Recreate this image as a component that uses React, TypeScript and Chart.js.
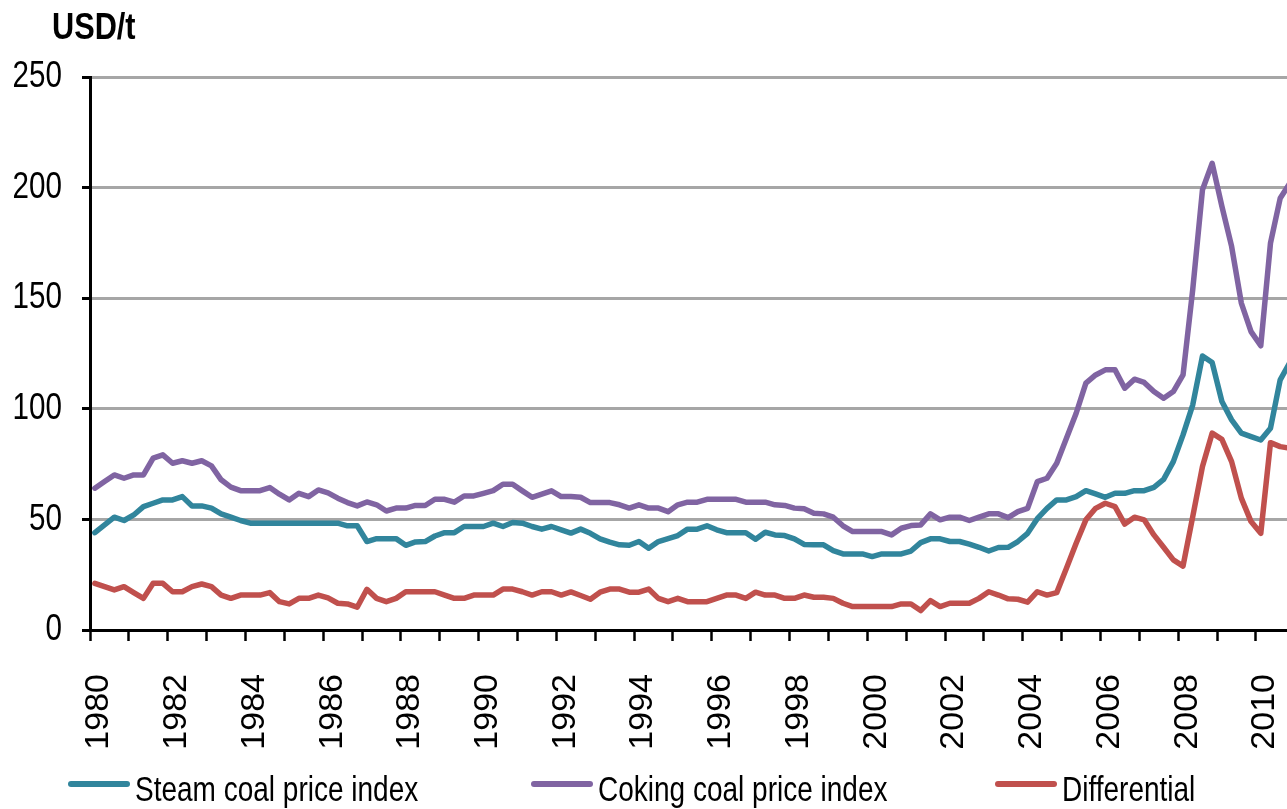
import { useEffect, useRef } from "react";
import { Chart, registerables } from "chart.js";

Chart.register(...registerables);

// ---- data (quarterly, first quarter 1980 Q1) ----
const firstYear = 1980;
const quartersPerYear = 4;
const lastYearTick = 2010;
const xAxisMax = 2010.8;

const steamCoal = [
  44.0, 47.5, 51.0, 49.5, 52.0, 55.8, 57.3, 58.8, 58.8, 60.3, 56.1, 56.1, 55.1, 52.5, 51.0, 49.5, 48.3, 48.3, 48.3, 48.3, 48.3, 48.3, 48.3, 48.3, 48.3,
  48.3, 47.1, 47.1, 40.0, 41.3, 41.3, 41.3, 38.3, 39.8, 40.0, 42.5, 44.0, 44.0, 46.8, 46.8, 46.8, 48.3, 46.8, 48.6, 48.3, 46.8, 45.6, 46.8, 45.3, 43.8,
  45.6, 43.7, 41.2, 39.7, 38.5, 38.3, 40.0, 37.0, 40.0, 41.3, 42.7, 45.6, 45.6, 47.1, 45.3, 44.0, 44.0, 44.0, 41.0, 44.2, 43.0, 42.7, 41.2, 38.7,
  38.5, 38.5, 35.9, 34.4, 34.4, 34.4, 33.2, 34.4, 34.4, 34.4, 35.7, 39.5, 41.2, 41.2, 40.0, 40.0, 38.8, 37.4, 35.7, 37.3,
  37.4, 40.0, 43.7, 50.3, 55.0, 58.8, 58.8, 60.3, 63.0, 61.5, 60.0, 61.8, 61.8, 63.0, 63.0, 64.5, 68.1, 76.1, 88.2, 101.8,
  123.9, 120.9, 103.3, 95.0, 89.0, 87.4, 85.9, 91.2, 113.1, 121.0,
];

const cokingCoal = [
  64.1, 67.1, 70.1, 68.6, 70.1, 70.1, 77.7, 79.2, 75.4, 76.5, 75.4, 76.5, 74.2, 67.9, 64.6, 63.0, 63.0, 63.0, 64.4, 61.4, 58.8, 61.8, 60.3, 63.3, 62.0,
  59.6, 57.6, 56.1, 57.9, 56.6, 53.8, 55.1, 55.1, 56.3, 56.3, 59.1, 59.1, 57.8, 60.6, 60.6, 61.8, 63.0, 65.9, 65.9, 62.9, 60.0, 61.4, 62.9, 60.3, 60.3,
  60.0, 57.6, 57.6, 57.6, 56.6, 55.1, 56.6, 55.1, 55.1, 53.5, 56.6, 57.8, 57.8, 59.1, 59.1, 59.1, 59.1, 57.8, 57.8, 57.8, 56.6, 56.3, 55.1, 54.8,
  52.8, 52.5, 51.0, 47.1, 44.5, 44.5, 44.5, 44.5, 43.0, 46.0, 47.2, 47.5, 52.5, 49.8, 51.0, 51.0, 49.5, 51.0, 52.5, 52.5,
  50.8, 53.5, 55.0, 67.1, 68.6, 75.4, 86.7, 98.0, 111.6, 115.3, 117.6, 117.6, 109.3, 113.4, 111.9, 107.8, 104.8, 107.8, 115.3, 154.0,
  199.0, 211.0, 191.5, 173.4, 147.8, 134.9, 128.5, 174.9, 195.2, 202.0,
];

const differential = [
  21.1, 19.6, 18.1, 19.6, 16.9, 14.3, 21.1, 21.1, 17.3, 17.3, 19.6, 20.8, 19.6, 15.8, 14.3, 15.8, 15.8, 15.8, 16.9, 12.8, 11.8, 14.3, 14.3, 15.8, 14.5,
  12.1, 11.8, 10.3, 18.4, 14.3, 12.8, 14.3, 17.3, 17.3, 17.3, 17.3, 15.8, 14.3, 14.3, 15.8, 15.8, 15.8, 18.5, 18.5, 17.3, 15.8, 17.3, 17.3, 15.8, 17.2,
  15.6, 13.9, 17.1, 18.5, 18.5, 17.1, 17.1, 18.5, 14.3, 12.8, 14.3, 12.8, 12.8, 12.8, 14.3, 15.8, 15.8, 14.3, 17.1, 15.8, 15.8, 14.3, 14.3, 15.8,
  14.8, 14.8, 14.3, 12.1, 10.6, 10.6, 10.6, 10.6, 10.6, 11.8, 11.8, 8.8, 13.3, 10.6, 12.1, 12.1, 12.1, 14.3, 17.3, 15.8,
  14.1, 13.9, 12.6, 17.3, 15.8, 16.9, 27.9, 39.2, 49.8, 55.0, 57.3, 55.8, 47.9, 51.0, 49.8, 43.0, 37.4, 31.7, 28.9, 51.3,
  73.9, 89.0, 86.2, 76.1, 59.6, 49.0, 43.7, 84.7, 82.9, 82.2,
];

const yTickValues = [0, 50, 100, 150, 200, 250];
const yearTickLabels = [
  "1980", "1982", "1984", "1986", "1988", "1990", "1992", "1994",
  "1996", "1998", "2000", "2002", "2004", "2006", "2008", "2010",
];
const seriesLabels = ["Steam coal price index", "Coking coal price index", "Differential"];
const seriesColors = ["#31859C", "#8064A2", "#C0504D"];
const unitLabel = "USD/t";

// ---- style constants ----
const W = 1287;
const H = 809;
const FONT = "'Liberation Sans', Arial, sans-serif";
const GRID = "#a6a6a6";
const NARROW_X = 0.8; // horizontal squeeze to mimic the narrow face of the original

// category centre of each quarter on a year-based axis
const quarterPos = (i: number) => firstYear + (i + 0.5) / quartersPerYear;
const toPoints = (arr: number[]) => arr.map((v, i) => ({ x: quarterPos(i), y: v }));

function narrowText(ctx: CanvasRenderingContext2D, text: string, x: number, y: number, k: number) {
  ctx.save();
  ctx.translate(x, y);
  ctx.scale(k, 1);
  ctx.fillText(text, 0, 0);
  ctx.restore();
}

// squeeze the y tick labels horizontally around their right-aligned anchor
const narrowYLabelsPlugin = {
  id: "narrowYLabels",
  beforeDraw(chart: any) {
    const scale = chart.scales.y;
    if (!scale || scale.__narrow) return;
    const orig = scale.drawLabels.bind(scale);
    scale.drawLabels = (area: any) => {
      const ctx = chart.ctx as CanvasRenderingContext2D;
      const ax = scale.right - scale.options.grid.tickLength - scale.options.ticks.padding;
      ctx.save();
      ctx.translate(ax, 0);
      ctx.scale(NARROW_X, 1);
      ctx.translate(-ax, 0);
      orig(area);
      ctx.restore();
    };
    scale.__narrow = true;
  },
};

const overlayPlugin = {
  id: "overlay",
  afterDraw(chart: any) {
    const ctx = chart.ctx as CanvasRenderingContext2D;
    ctx.save();
    ctx.fillStyle = "#000";
    ctx.textAlign = "left";
    ctx.textBaseline = "alphabetic";
    ctx.font = `bold 37px ${FONT}`;
    narrowText(ctx, unitLabel, 52, 39, 0.83);

    // legend
    const itemStarts = [68, 531, 995];
    const sampleLen = 62;
    const lineY = 784;
    ctx.font = `35px ${FONT}`;
    chart.data.datasets.forEach((ds: any, i: number) => {
      const x0 = itemStarts[i];
      ctx.beginPath();
      ctx.lineCap = "round";
      ctx.lineWidth = 6;
      ctx.strokeStyle = ds.borderColor;
      ctx.moveTo(x0 + 3, lineY);
      ctx.lineTo(x0 + sampleLen - 3, lineY);
      ctx.stroke();
      ctx.fillStyle = "#000";
      narrowText(ctx, ds.label, x0 + sampleLen + 5, 801, NARROW_X);
    });
    ctx.restore();
  },
};

export default function App() {
  const canvasRef = useRef<HTMLCanvasElement | null>(null);

  useEffect(() => {
    document.body.style.margin = "0";
    document.body.style.overflow = "hidden";
    const canvas = canvasRef.current;
    if (!canvas) return;
    const seriesData = [steamCoal, cokingCoal, differential];
    const chart = new Chart(canvas, {
      type: "line",
      data: {
        datasets: seriesData.map((arr, i) => ({
          label: seriesLabels[i],
          data: toPoints(arr),
          borderColor: seriesColors[i],
          backgroundColor: seriesColors[i],
          borderWidth: 5.5,
          borderJoinStyle: "round" as const,
          borderCapStyle: "round" as const,
          pointRadius: 0,
          pointHoverRadius: 0,
          tension: 0,
          fill: false,
        })),
      },
      options: {
        responsive: false,
        animation: false,
        events: [],
        layout: { padding: { top: 77, left: 0, right: 0, bottom: 0 } },
        plugins: {
          legend: { display: false },
          tooltip: { enabled: false },
          title: { display: false },
        },
        scales: {
          x: {
            type: "linear",
            min: firstYear,
            max: xAxisMax,
            afterBuildTicks: (scale: any) => {
              const ticks = [];
              for (let y = firstYear; y <= lastYearTick; y++) ticks.push({ value: y });
              scale.ticks = ticks;
            },
            afterFit: (scale: any) => {
              scale.height = H - 630;
              scale.paddingLeft = 0;
              scale.paddingRight = 0;
            },
            border: { display: true, color: "#000", width: 3 },
            grid: {
              display: true,
              drawOnChartArea: false,
              drawTicks: true,
              tickLength: 11,
              tickColor: "#000",
              tickWidth: 2.5,
              color: "#000",
            },
            ticks: {
              autoSkip: false,
              minRotation: 90,
              maxRotation: 90,
              padding: 33,
              labelOffset: 9,
              color: "#000",
              font: { family: FONT, size: 34 },
              callback: (value: any) =>
                yearTickLabels.includes(String(value)) ? String(value) : "",
            },
          },
          y: {
            type: "linear",
            min: 0,
            max: 250,
            afterBuildTicks: (scale: any) => {
              scale.ticks = yTickValues.map((v) => ({ value: v }));
            },
            afterFit: (scale: any) => {
              scale.width = 90;
              scale.paddingTop = 0;
              scale.paddingBottom = 0;
            },
            border: { display: true, color: "#000", width: 3 },
            grid: {
              display: true,
              drawOnChartArea: true,
              drawTicks: true,
              tickLength: 8,
              tickColor: "#000",
              tickWidth: 3,
              lineWidth: 3,
              color: (ctx: any) =>
                ctx.tick && ctx.tick.value === 0 ? "rgba(0,0,0,0)" : GRID,
            },
            ticks: {
              padding: 20,
              color: "#000",
              font: { family: FONT, size: 37 },
            },
          },
        },
      },
      plugins: [narrowYLabelsPlugin, overlayPlugin],
    });
    return () => chart.destroy();
  }, []);

  return (
    <div style={{ position: "fixed", left: 0, top: 0, width: W, height: H, overflow: "hidden", background: "#fff" }}>
      <canvas ref={canvasRef} width={W} height={H} style={{ display: "block" }} />
    </div>
  );
}
